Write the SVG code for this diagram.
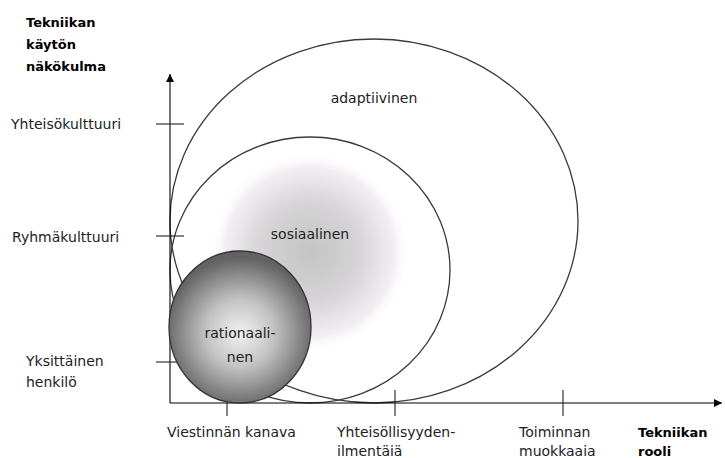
<svg xmlns="http://www.w3.org/2000/svg" width="725" height="458" viewBox="0 0 725 458">
  <style>
    .t { font-family: "DejaVu Sans", "Liberation Sans", sans-serif; font-size: 14px; fill: #222; }
    .b { font-family: "DejaVu Sans", "Liberation Sans", sans-serif; font-size: 13px; font-weight: bold; fill: #000; }
    .ell { fill: none; stroke: #3a3a3a; stroke-width: 1.3; }
    .ax { stroke: #000; stroke-width: 1.1; fill: none; }
    .tick { stroke: #222; stroke-width: 1.1; }
  </style>
  <defs>
    <radialGradient id="gSoc" cx="310" cy="252" r="100" gradientUnits="userSpaceOnUse">
      <stop offset="0" stop-color="#c4c4c4"/>
      <stop offset="0.5" stop-color="#d6d4d6"/>
      <stop offset="0.85" stop-color="#f3eef3"/>
      <stop offset="1" stop-color="#ffffff" stop-opacity="0"/>
    </radialGradient>
    <radialGradient id="gRat" cx="240" cy="333" r="76" gradientUnits="userSpaceOnUse">
      <stop offset="0" stop-color="#f2f2f2"/>
      <stop offset="0.45" stop-color="#c2c2c2"/>
      <stop offset="1" stop-color="#626262"/>
    </radialGradient>
    <marker id="arr" markerWidth="10" markerHeight="10" refX="8" refY="4" orient="auto" markerUnits="userSpaceOnUse">
      <path d="M0,0 L8,4 L0,8 Z" fill="#000"/>
    </marker>
  </defs>

  <rect width="725" height="458" fill="#fff"/>

  <g id="adaptiivinen">
    <ellipse class="ell" cx="374" cy="221" rx="204" ry="182"/>
    <text class="t" x="374" y="103" text-anchor="middle">adaptiivinen</text>
  </g>

  <g id="sosiaalinen">
    <ellipse cx="310" cy="270" rx="140" ry="133" class="ell" style="fill:url(#gSoc)"/>
    <text class="t" x="310" y="239" text-anchor="middle">sosiaalinen</text>
  </g>

  <g id="axes">
    <line class="ax" x1="170" y1="403" x2="170" y2="74" marker-end="url(#arr)"/>
    <line class="ax" x1="170" y1="403" x2="722" y2="403" marker-end="url(#arr)"/>
    <line class="tick" x1="156" y1="124" x2="184" y2="124"/>
    <line class="tick" x1="156" y1="236" x2="184" y2="236"/>
    <line class="tick" x1="156" y1="362" x2="184" y2="362"/>
    <line class="tick" x1="227" y1="390" x2="227" y2="416"/>
    <line class="tick" x1="395" y1="390" x2="395" y2="416"/>
    <line class="tick" x1="563" y1="390" x2="563" y2="416"/>
  </g>

  <g id="rationaalinen">
    <ellipse cx="240" cy="327" rx="71" ry="76" fill="url(#gRat)" stroke="#333" stroke-width="1.3"/>
    <text class="t" x="240" y="338" text-anchor="middle">rationaali-</text>
    <text class="t" x="240" y="362" text-anchor="middle">nen</text>
  </g>

  <g id="y-labels">
    <text class="b" x="26" y="27">Tekniikan</text>
    <text class="b" x="26" y="49">käytön</text>
    <text class="b" x="26" y="71">näkökulma</text>
    <text class="t" x="11" y="129">Yhteisökulttuuri</text>
    <text class="t" x="12" y="242">Ryhmäkulttuuri</text>
    <text class="t" x="26" y="366">Yksittäinen</text>
    <text class="t" x="26" y="387">henkilö</text>
  </g>

  <g id="x-labels">
    <text class="t" x="167" y="437">Viestinnän kanava</text>
    <text class="t" x="337" y="437">Yhteisöllisyyden-</text>
    <text class="t" x="337" y="456">ilmentäiä</text>
    <text class="t" x="519" y="437">Toiminnan</text>
    <text class="t" x="519" y="456">muokkaaia</text>
    <text class="b" x="638" y="437">Tekniikan</text>
    <text class="b" x="638" y="456">rooli</text>
  </g>
</svg>
